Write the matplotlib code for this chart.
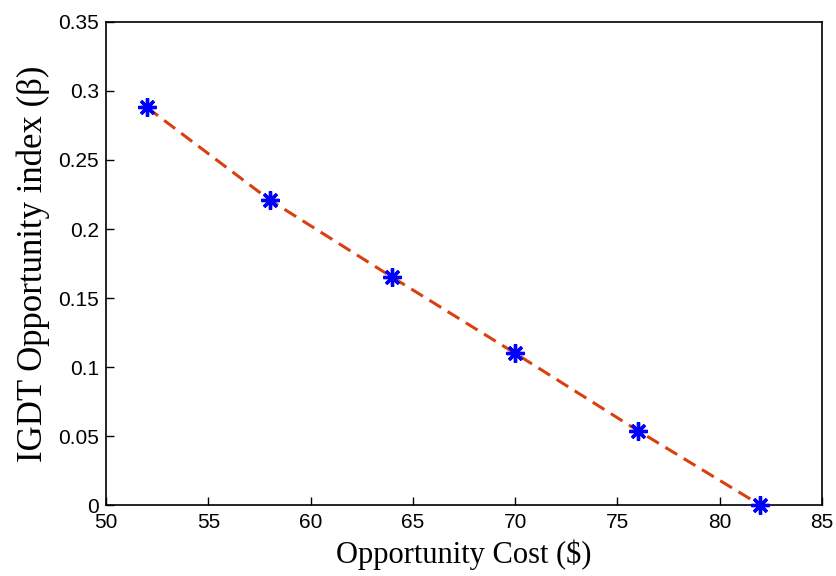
import matplotlib
matplotlib.use("Agg")
import matplotlib.pyplot as plt

cost = [52, 58, 64, 70, 76, 82]
beta = [0.288, 0.221, 0.165, 0.110, 0.054, 0.0]
xticks = [50, 55, 60, 65, 70, 75, 80, 85]
yticks = [0, 0.05, 0.1, 0.15, 0.2, 0.25, 0.3, 0.35]
ytick_labels = ["0", "0.05", "0.1", "0.15", "0.2", "0.25", "0.3", "0.35"]

fig = plt.figure(figsize=(8.36, 5.76), dpi=100)
ax = fig.add_axes([0.127, 0.123, 0.856, 0.839])
ax.plot(cost, beta, linestyle=(0, (4.5, 2.5)), color="#D9400F", linewidth=2.2, zorder=2)
ax.plot(cost, beta, linestyle="none", marker=(8, 2, 0), markersize=13,
        markeredgecolor="#0000FF", markeredgewidth=2.4, color="#0000FF", zorder=3, clip_on=False)
ax.set_xlim(50, 85)
ax.set_ylim(0, 0.35)
ax.set_xticks(xticks)
ax.set_yticks(yticks)
ax.set_yticklabels(ytick_labels)
tickfont = ["Liberation Sans", "DejaVu Sans"]
for lab in ax.get_xticklabels() + ax.get_yticklabels():
    lab.set_family(tickfont)
    lab.set_fontsize(15)
ax.tick_params(axis="x", direction="in", length=6, width=1, pad=6)
ax.tick_params(axis="y", direction="in", length=6, width=1, pad=5)
for s in ax.spines.values():
    s.set_linewidth(1.2)
ax.set_xlabel("Opportunity Cost ($)", family=["Liberation Serif"], fontsize=22, labelpad=5)
ax.set_ylabel("IGDT Opportunity index (β)", family=["Liberation Serif", "DejaVu Serif"], fontsize=25, labelpad=6)
fig.savefig("out.png", dpi=100)
